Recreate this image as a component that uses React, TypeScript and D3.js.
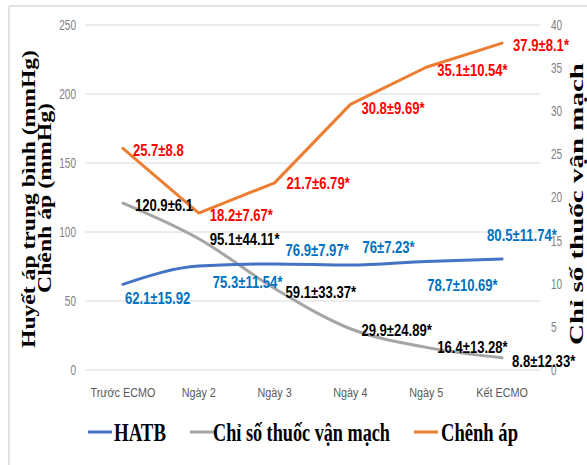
import React from 'react';
import * as d3 from 'd3';

const categories = ['Trước ECMO', 'Ngày 2', 'Ngày 3', 'Ngày 4', 'Ngày 5', 'Kết ECMO'];

// HATB (mmHg), left axis
const hatb = [62.1, 75.3, 76.9, 76, 78.7, 80.5];
const hatbLabels = ['62.1±15.92', '75.3±11.54*', '76.9±7.97*', '76±7.23*', '78.7±10.69*', '80.5±11.74*'];

// Chỉ số thuốc vận mạch, left axis
const vanMach = [120.9, 95.1, 59.1, 29.9, 16.4, 8.8];
const vanMachLabels = ['120.9±6.1', '95.1±44.11*', '59.1±33.37*', '29.9±24.89*', '16.4±13.28*', '8.8±12.33*'];

// Chênh áp (mmHg), right axis
const chenhAp = [25.7, 18.2, 21.7, 30.8, 35.1, 37.9];
const chenhApLabels = ['25.7±8.8', '18.2±7.67*', '21.7±6.79*', '30.8±9.69*', '35.1±10.54*', '37.9±8.1*'];

const leftTicks = [0, 50, 100, 150, 200, 250];
const rightTicks = [0, 5, 10, 15, 20, 25, 30, 35, 40];

// label offsets from the point (dx, dy to baseline)
const hatbOffsets = [[2, 20], [14, 22], [11, -8], [12, -12], [1, 30], [-15, -18]];
const vanMachOffsets = [[12, 8], [11, 6], [11, 10], [11, 7], [11, 6], [10, 9]];
const chenhApOffsets = [[10, 8], [11, 8], [12, 6], [11, 10], [11, 9], [11, 8]];

const W = 587;
const H = 465;
const plot = { left: 85, right: 540, top: 25, bottom: 370 };

const labelFont = '"Liberation Sans Narrow", "Liberation Sans", Arial, sans-serif';
const titleFont = '"Liberation Serif", "Times New Roman", serif';
const squeeze = 0.77; // narrow Calibri look

const App = () => {
  const x = d3.scalePoint<string>().domain(categories).range([plot.left, plot.right]).padding(0.5);
  const yLeft = d3.scaleLinear().domain([0, 250]).range([plot.bottom, plot.top]);
  const yRight = d3.scaleLinear().domain([0, 40]).range([plot.bottom, plot.top]);

  const lineLeft = (curve: d3.CurveFactory) =>
    d3.line<number>()
      .x((_, i) => x(categories[i]) as number)
      .y(d => yLeft(d))
      .curve(curve);
  const lineRight = d3.line<number>()
    .x((_, i) => x(categories[i]) as number)
    .y(d => yRight(d));

  const series = [
    { values: vanMach, labels: vanMachLabels, offsets: vanMachOffsets, color: '#A5A5A5', text: '#000000', path: lineLeft(d3.curveMonotoneX)(vanMach), y: yLeft },
    { values: hatb, labels: hatbLabels, offsets: hatbOffsets, color: '#4472C4', text: '#0070C0', path: lineLeft(d3.curveMonotoneX)(hatb), y: yLeft },
    { values: chenhAp, labels: chenhApLabels, offsets: chenhApOffsets, color: '#ED7D31', text: '#FF0000', path: lineRight(chenhAp), y: yRight },
  ];

  const legend = [
    { name: 'HATB', color: '#4472C4', x0: 88, tx: 114, len: 52 },
    { name: 'Chỉ số thuốc vận mạch', color: '#A5A5A5', x0: 190, tx: 213, len: 177 },
    { name: 'Chênh áp', color: '#ED7D31', x0: 414, tx: 441, len: 77 },
  ];

  return (
    <svg width={W} height={H} style={{ position: 'absolute', left: 0, top: 0, background: '#fff' }}>
      {/* frame */}
      <line x1={9} x2={W} y1={6} y2={6} stroke="#D9D9D9" strokeWidth={1.5} />
      <line x1={9} x2={9} y1={6} y2={H} stroke="#D9D9D9" strokeWidth={1.5} />

      {/* grid + left ticks */}
      {leftTicks.map(t => (
        <g key={'l' + t}>
          <line x1={plot.left} x2={plot.right} y1={yLeft(t)} y2={yLeft(t)} stroke="#D9D9D9" strokeWidth={1} />
          <text transform={`translate(76,${yLeft(t)}) scale(0.72,1)`} dy="0.35em" textAnchor="end" fontFamily={labelFont} fontSize={14} fill="#7F7F7F">{t}</text>
        </g>
      ))}
      {rightTicks.map(t => (
        <text key={'r' + t} transform={`translate(551,${yRight(t)}) scale(0.72,1)`} dy="0.35em" textAnchor="start" fontFamily={labelFont} fontSize={14} fill="#7F7F7F">{t}</text>
      ))}

      {/* category labels */}
      {categories.map(c => (
        <text key={c} transform={`translate(${x(c)},392) scale(0.8,1)`} dy="0.35em" textAnchor="middle" fontFamily={labelFont} fontSize={13.5} fill="#595959">{c}</text>
      ))}

      {/* lines */}
      {series.map((s, i) => (
        <path key={'p' + i} d={s.path || ''} fill="none" stroke={s.color} strokeWidth={3} strokeLinejoin="round" strokeLinecap="round" />
      ))}

      {/* data labels */}
      {series.map((s, i) => s.values.map((v, j) => (
        <text
          key={'t' + i + '-' + j}
          transform={`translate(${(x(categories[j]) as number) + s.offsets[j][0]},${s.y(v) + s.offsets[j][1]}) scale(${squeeze},1)`}
          fontFamily={labelFont}
          fontSize={17}
          fontWeight="bold"
          fill={s.text}
        >{s.labels[j]}</text>
      )))}

      {/* axis titles */}
      <text transform="translate(35,199) rotate(-90)" textAnchor="middle" fontFamily={titleFont} fontWeight="bold" fontSize={18} textLength={298} lengthAdjust="spacingAndGlyphs">Huyết áp trung bình (mmHg)</text>
      <text transform="translate(51,198) rotate(-90)" textAnchor="middle" fontFamily={titleFont} fontWeight="bold" fontSize={18} textLength={190} lengthAdjust="spacingAndGlyphs">Chênh áp (mmHg)</text>
      <text transform="translate(583,204) rotate(-90)" textAnchor="middle" fontFamily={titleFont} fontWeight="bold" fontSize={19} textLength={282} lengthAdjust="spacingAndGlyphs">Chỉ số thuốc vận mạch</text>

      {/* legend */}
      {legend.map(l => (
        <g key={l.name}>
          <line x1={l.x0} x2={l.x0 + 24} y1={432} y2={432} stroke={l.color} strokeWidth={3} />
          <text x={l.tx} y={441} fontFamily={titleFont} fontWeight="bold" fontSize={26} textLength={l.len} lengthAdjust="spacingAndGlyphs">{l.name}</text>
        </g>
      ))}
    </svg>
  );
};

export default App;
